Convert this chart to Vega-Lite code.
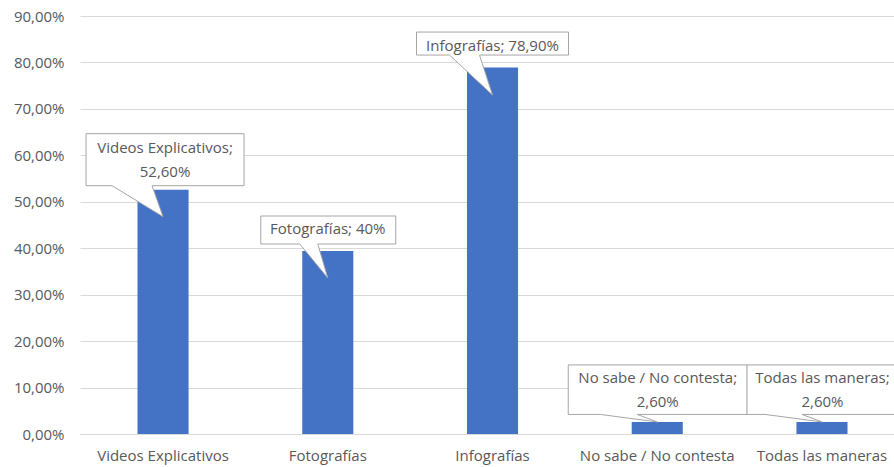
{
  "$schema": "https://vega.github.io/schema/vega-lite/v6.json",
  "width": 814,
  "height": 418,
  "autosize": {"type": "none"},
  "padding": {"left": 80, "top": 16, "right": 0, "bottom": 33},
  "background": "#ffffff",
  "config": {
    "view": {"stroke": null},
    "font": "Open Sans",
    "text": {"font": "Open Sans"}
  },
  "data": {
    "values": [
      {"cat": "Videos Explicativos", "value": 0.526, "label": "Videos Explicativos;\n52,60%", "grp": "two"},
      {"cat": "Fotografías", "value": 0.394, "label": "Fotografías; 40%", "grp": "one"},
      {"cat": "Infografías", "value": 0.789, "label": "Infografías; 78,90%", "grp": "one"},
      {"cat": "No sabe / No contesta", "value": 0.026, "label": "No sabe / No contesta;\n2,60%", "grp": "small"},
      {"cat": "Todas las maneras", "value": 0.026, "label": "Todas las maneras;\n2,60%", "grp": "small"}
    ]
  },
  "encoding": {
    "x": {
      "field": "cat",
      "type": "nominal",
      "sort": null,
      "scale": {"paddingInner": 0.69, "paddingOuter": 0.3156, "align": 0.553},
      "axis": {
        "title": null,
        "labelAngle": 0,
        "labelFont": "Open Sans",
        "labelFontSize": 15,
        "labelColor": "#595959",
        "labelPadding": 14,
        "ticks": false,
        "domainColor": "#D9D9D9",
        "domainWidth": 1,
        "labelLimit": 300
      }
    },
    "y": {
      "field": "value",
      "type": "quantitative",
      "scale": {"domain": [0, 0.9], "nice": false},
      "axis": {
        "title": null,
        "values": [0, 0.1, 0.2, 0.3, 0.4, 0.5, 0.6, 0.7, 0.8, 0.9],
        "labelExpr": "replace(format(datum.value, '.2%'), '.', ',')",
        "labelFont": "Open Sans",
        "labelFontSize": 15,
        "labelColor": "#595959",
        "labelPadding": 16,
        "ticks": false,
        "domain": false,
        "gridColor": "#D9D9D9",
        "gridWidth": 1
      }
    }
  },
  "layer": [
    {
      "mark": {"type": "bar", "color": "#4472C4"}
    },
    {
      "mark": {
        "type": "point",
        "size": 4,
        "filled": true,
        "fill": "#ffffff",
        "stroke": "#A6A6A6",
        "strokeWidth": 1,
        "opacity": 1,
        "fillOpacity": 1,
        "strokeOpacity": 1
      },
      "encoding": {
        "shape": {
          "field": "cat",
          "type": "nominal",
          "legend": null,
          "scale": {
            "domain": ["Videos Explicativos", "Fotografías", "Infografías", "No sabe / No contesta", "Todas las maneras"],
            "range": [
              "M-77,-56 L81,-56 L81,-4 L-11,-4 L0,27 L-51,-4 L-77,-4 Z",
              "M-67,-35 L68,-35 L68,-7 L-10,-7 L0,27 L-28,-7 L-67,-7 Z",
              "M-76,-35.5 L76,-35.5 L76,-12.5 L-13,-12.5 L0,27.5 L-43,-12.5 L-76,-12.5 Z",
              "M-89,-57 L90,-57 L90,-7.5 L-20,-7.5 L0,0 L-57,-7.5 L-89,-7.5 Z",
              "M-75,-57 L75,-57 L75,-7.5 L-20,-7.5 L0,0 L-57,-7.5 L-75,-7.5 Z"
            ]
          }
        }
      }
    },
    {
      "transform": [{"filter": "datum.grp == 'two'"}],
      "mark": {"type": "text", "lineBreak": "\n", "lineHeight": 24, "fontSize": 15, "color": "#595959", "baseline": "middle", "dy": -42, "dx": 2},
      "encoding": {"text": {"field": "label"}}
    },
    {
      "transform": [{"filter": "datum.grp == 'one'"}],
      "mark": {"type": "text", "fontSize": 15, "color": "#595959", "baseline": "middle", "dy": -22},
      "encoding": {"text": {"field": "label"}}
    },
    {
      "transform": [{"filter": "datum.grp == 'small'"}],
      "mark": {"type": "text", "lineBreak": "\n", "lineHeight": 24, "fontSize": 15, "color": "#595959", "baseline": "middle", "dy": -44, "dx": 0.5},
      "encoding": {"text": {"field": "label"}}
    }
  ]
}
